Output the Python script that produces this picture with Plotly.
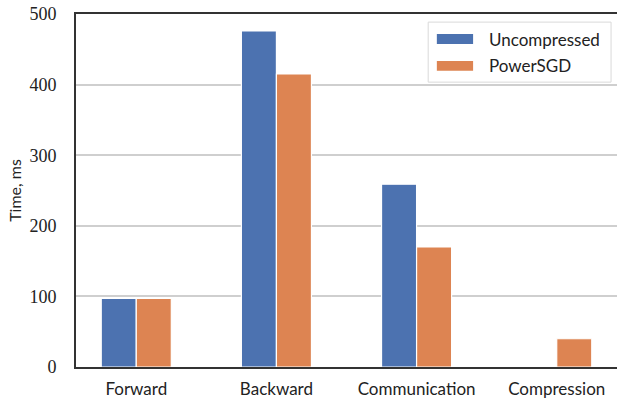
import plotly.graph_objects as go

categories = ["Forward", "Backward", "Communication", "Compression"]
uncompressed = [97, 476, 259, 0]
powersgd = [97, 415, 170, 40]
series_names = ["Uncompressed", "PowerSGD"]
colors = ["#4C72B0", "#DD8452"]
y_ticks = [0, 100, 200, 300, 400, 500]

fig = go.Figure()
for name, vals, col in zip(series_names, [uncompressed, powersgd], colors):
    fig.add_trace(go.Bar(
        x=categories, y=vals, name=name,
        marker=dict(color=col, line=dict(color="white", width=1.2)),
        showlegend=False,
    ))

# manual legend (matplotlib-style wide swatches)
fig.add_shape(type="rect", xref="paper", yref="paper",
              x0=0.651, x1=0.989, y0=0.807, y1=0.977,
              line=dict(color="#d9d9d9", width=1), fillcolor="rgba(255,255,255,0.9)")
for i, (name, col) in enumerate(zip(series_names, colors)):
    yc = 0.929 - i * 0.076
    fig.add_shape(type="rect", xref="paper", yref="paper",
                  x0=0.667, x1=0.734, y0=yc - 0.014, y1=yc + 0.014,
                  line=dict(width=0), fillcolor=col)
    fig.add_annotation(xref="paper", yref="paper", x=0.76, y=yc,
                       text=name, showarrow=False, xanchor="left", yanchor="middle",
                       font=dict(family="Lato", size=17, color="#222"))

fig.update_layout(
    width=617, height=400,
    margin=dict(l=76, r=0, t=14, b=33),
    plot_bgcolor="white", paper_bgcolor="white",
    barmode="group", bargap=0.5, bargroupgap=0,
    xaxis=dict(range=[-0.43, 3.43], showline=True, linecolor="#333", linewidth=2,
               mirror=True, ticks="", showgrid=False, automargin=False,
               tickfont=dict(family="Lato", size=17, color="#222"),
               ticklabelstandoff=6),
    yaxis=dict(range=[0, 500], tickvals=y_ticks, showline=True, linecolor="#333",
               linewidth=2, showgrid=True, gridcolor="#cfcfcf", gridwidth=1.5,
               zeroline=False, ticks="", automargin=False,
               tickfont=dict(family="Liberation Serif", size=18, color="#222"),
               ticklabelstandoff=14,
               title=dict(text="Time, ms", font=dict(family="Lato", size=16, color="#222"),
                          standoff=4)),
)
fig.write_html("out.html", config={"displayModeBar": False},
               post_script="document.body.style.margin='0';document.body.style.overflow='hidden';")
